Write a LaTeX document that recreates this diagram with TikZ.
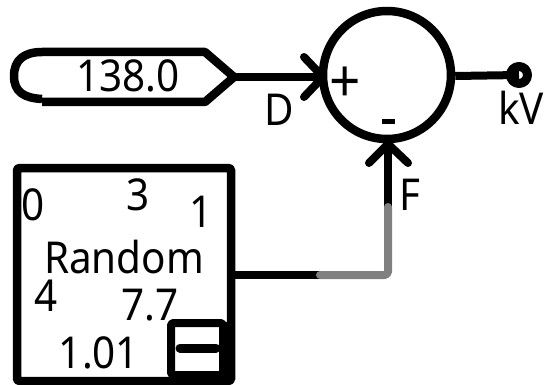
\documentclass[tikz,border=0pt]{standalone}
\usepackage{fontspec}
\setmainfont[FakeStretch=0.92]{Noto Sans}
\begin{document}
\begin{tikzpicture}[x=.02cm, y=-.02cm, line join=round,
		wire/.style={line width=8.5*.02cm},
		out wire/.style={line width=8*.02cm},
		tip/.style={line width=8*.02cm, line cap=round},
		label/.style={inner sep=0pt, font=\fontsize{25}{25}\selectfont}]
	\useasboundingbox (0,0) rectangle (544,385);
	% input on the left
	\draw[wire] (42,99) .. controls (24,98) and (14,92) .. (14,76) .. controls (14,60) and (24,52) .. (42,52) -- (205,52) -- (234,77) -- (205,102) -- (42,102);
	\coordinate (tag) at (234,77);
	\node[label] (val) at (128,76) {138.0};
	% summing circle
	\node[draw, circle, line width=8.5*.02cm, minimum size=128*.02cm, inner sep=0pt] (sum) at (387,75) {};
	\node[label, font=\fontsize{34}{34}\selectfont] (plus) at (345,85) {+};
	\node[fill=black, minimum width=13*.02cm, minimum height=5*.02cm, inner sep=0pt] (minus) at (388,121) {};
	\draw[wire] (tag) -- (sum.west |- tag);
	\draw[tip] (304,57) -- (323,77) -- (304,97);
	\node[label] (D) at (279,110) {D};
	\node[label] (F) at (410,195) {F};
	% output dot
	\node[draw, circle, line width=9*.02cm, minimum size=17*.02cm, inner sep=0pt] (dot) at (519,75) {};
	\draw[out wire] (sum.east |- 0,76) -- (dot.center);
	\node[label] (kV) at (521,108) {kV};
	% block
	\node[draw, rounded corners=1pt, line width=8.5*.02cm, minimum width=214*.02cm, minimum height=213*.02cm, inner sep=0pt] (block) at (124,274.5) {};
	\node[label] (lo) at (33,205) {0};
	\node[label] (mean) at (138,195) {3};
	\node[label] (hi) at (201,212) {1};
	\node[label] (name) at (124,257) {Random};
	\node[label] (seed) at (46,296) {4};
	\node[label] (gain) at (150,305) {7.7};
	\node[label] (rate) at (99,353) {1.01};
	\node[draw, rounded corners=1pt, line width=8*.02cm, minimum width=52*.02cm, minimum height=52*.02cm, inner sep=0pt] (small) at (197,349) {};
	\draw[line width=9*.02cm, line cap=round] (180,348) -- (216,348);
	\draw[line width=8*.02cm] (224,322) -- (224,378);
	% wire from block to circle
	\coordinate (mid) at (320,275);
	\coordinate (corner) at (388,275);
	\coordinate (top) at (388,207);
	\draw[out wire] (block.east |- mid) -- (mid);
	\draw[out wire] (top) -- (388,145);
	\draw[out wire, black!50, line cap=round, rounded corners=2pt] (mid) -- (corner) -- (top);
	\draw[tip] (369,163) -- (388,144) -- (408,163);
\end{tikzpicture}
\end{document}
